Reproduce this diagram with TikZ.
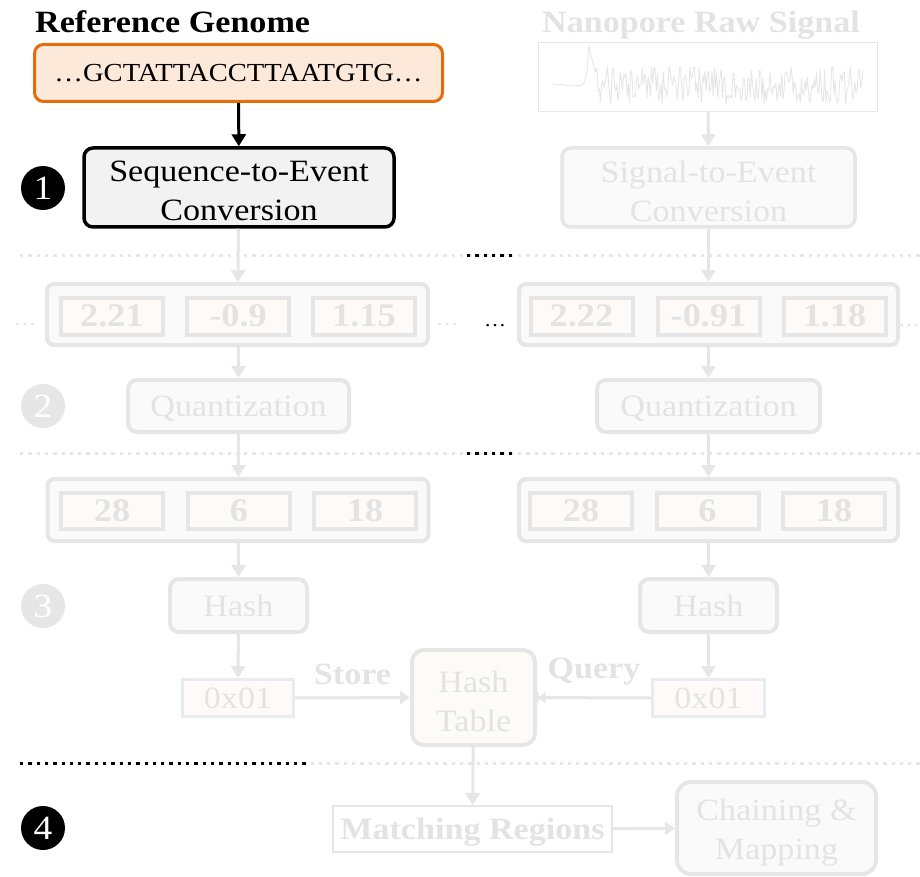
\documentclass[tikz,border=0pt]{standalone}
\usepackage{fontspec}
\setmainfont{Liberation Serif}[FakeStretch=1.1]
\usetikzlibrary{arrows.meta}

\definecolor{fadeline}{HTML}{E6E6E6}
\definecolor{fadetext}{HTML}{E3E3E3}
\definecolor{fadefill}{HTML}{FAFAFA}
\definecolor{cellfill}{HTML}{FEFAF8}
\definecolor{hexline}{HTML}{E8ECF2}
\definecolor{tablefill}{HTML}{FCFBF7}
\definecolor{refline}{HTML}{E46C0A}
\definecolor{reffill}{HTML}{FDE9D9}
\definecolor{activefill}{HTML}{F2F2F2}

\tikzset{
  lbl/.style={font=\fontsize{31}{39}\selectfont, align=center, inner sep=0pt},
  oneline/.style={lbl, text depth=0pt},
  boldlbl/.style={font=\fontsize{31}{39}\selectfont\bfseries, inner sep=0pt},
  faded/.style={draw=fadeline, text=fadetext},
  rbox/.style={rounded corners=9pt, line width=3.5pt, inner sep=0pt},
  outerrow/.style={draw=fadeline, fill=fadefill, rounded corners=7pt, line width=4pt,
                   minimum width=381pt, minimum height=61pt, inner sep=0pt},
  cell/.style={draw=fadeline, fill=cellfill, line width=4pt, text=fadetext,
               minimum width=102pt, minimum height=37pt, inner sep=0pt, text depth=0pt,
               font=\fontsize{33}{38}\selectfont\bfseries},
  hexbox/.style={oneline, draw=hexline, fill=cellfill, line width=3pt, text=fadetext,
                 minimum width=111pt, minimum height=37pt},
  flow/.style={line width=3pt, -{Triangle[length=12pt,width=14pt]}},
  fadeflow/.style={flow, draw=fadeline},
  sep/.style={line width=3pt, dash pattern=on 3.3pt off 5pt},
  stepmark/.style={circle, minimum size=44pt, inner sep=0pt, text=white, text depth=0pt,
                   font=\fontsize{34}{34}\selectfont},
  elli/.style={inner sep=0pt, font=\fontsize{20}{20}\selectfont}
}

\begin{document}
\begin{tikzpicture}[x=1pt, y=-1pt]
\useasboundingbox (0,0) rectangle (920,877);

% ---- section separators ----
\draw[sep, fadeline] (20,255) -- (920,255);
\draw[sep, black] (467,255) -- (513,255);
\draw[sep, fadeline] (20,453) -- (920,453);
\draw[sep, black] (467,453) -- (513,453);
\draw[sep, fadeline] (20,763) -- (920,763);
\draw[sep, black] (20,763) -- (307,763);

% ---- inputs ----
\node[boldlbl, anchor=base west] (reftitle) at (35,33) {Reference Genome};
\node[rbox, oneline, draw=refline, fill=reffill, line width=3pt, minimum width=408pt,
      minimum height=57pt, font=\fontsize{26}{32}\selectfont] (ref) at (238.5,73)
      {…GCTATTACCTTAATGTG…};

\node[boldlbl, text=fadetext, anchor=base] (sigtitle) at (701,33) {Nanopore Raw Signal};
\node[draw=fadeline, line width=1pt, minimum width=339pt, minimum height=69pt,
      inner sep=0pt] (sig) at (708,77) {};
\begin{scope}
  \pgfmathsetseed{4711}
  \draw[fadeline, line width=0.9pt, line join=round]
    (553,84) -- (558,85) -- (563,84) -- (568,86) -- (574,85) -- (580,86) -- (584,83)
    -- (587,72) -- (589,46) -- (591,56) -- (593,62) -- (595,72)
    -- plot[domain=597:863, samples=230] (\x,{85+19*rand});
\end{scope}

% ---- step 1: event conversion ----
\node[rbox, draw=black, fill=activefill, minimum width=310pt, minimum height=79pt]
  (s2e) at (239,187.5) {};
\node[lbl] (s2etext) at (239,191) {Sequence-to-Event\\Conversion};
\node[rbox, faded, fill=fadefill, minimum width=293pt, minimum height=79pt]
  (sig2e) at (708.5,187.5) {};
\node[lbl, text=fadetext] (sig2etext) at (708.5,191) {Signal-to-Event\\Conversion};
\node[stepmark, fill=black] (one) at (43,188) {1};

% events, reference side
\node[outerrow] (evL) at (237.5,314.5) {};
\node[cell] (evL1) at (112,316) {2.21};
\node[cell] (evL2) at (238,316) {-0.9};
\node[cell] (evL3) at (364,316) {1.15};
% events, signal side
\node[outerrow, minimum width=379pt] (evR) at (708.5,314.5) {};
\node[cell] (evR1) at (581.5,316) {2.22};
\node[cell] (evR2) at (708.5,316) {-0.91};
\node[cell] (evR3) at (834.5,316) {1.18};

\node[elli, text=fadetext] (dotsL) at (25,325) {…};
\node[elli, text=fadetext] (dotsM) at (447,325) {…};
\node[elli, text=black] (dotsK) at (495,326) {…};
\node[elli, text=fadetext] (dotsR) at (909,326) {…};

% ---- step 2: quantization ----
\node[rbox, oneline, faded, fill=fadefill, line width=4pt, minimum width=221pt, minimum height=52pt]
  (qL) at (238.5,406) {Quantization};
\node[rbox, oneline, faded, fill=fadefill, line width=4pt, minimum width=223pt, minimum height=52pt]
  (qR) at (708.5,406) {Quantization};
\node[stepmark, fill=fadeline] (two) at (43,406) {2};

\node[outerrow, minimum height=62pt] (qvL) at (238,510) {};
\node[cell, minimum height=36pt] (qvL1) at (112,511) {28};
\node[cell, minimum height=36pt] (qvL2) at (239,511) {6};
\node[cell, minimum height=36pt] (qvL3) at (365,511) {18};
\node[outerrow, minimum width=379pt, minimum height=62pt] (qvR) at (708.5,510) {};
\node[cell, minimum height=36pt] (qvR1) at (581,511) {28};
\node[cell, minimum height=36pt] (qvR2) at (707.5,511) {6};
\node[cell, minimum height=36pt] (qvR3) at (834,511) {18};

% ---- step 3: hashing ----
\node[rbox, oneline, faded, fill=fadefill, line width=4pt, minimum width=137pt, minimum height=53pt]
  (hL) at (238.5,605.5) {Hash};
\node[rbox, oneline, faded, fill=fadefill, line width=4pt, minimum width=137pt, minimum height=53pt]
  (hR) at (708.5,605.5) {Hash};
\node[stepmark, fill=fadeline] (three) at (43,606) {3};

\node[hexbox] (keyL) at (238,698) {0x01};
\node[hexbox, minimum width=112pt] (keyR) at (708.5,698) {0x01};
\node[rbox, faded, fill=tablefill, line width=4pt, rounded corners=12pt,
      minimum width=123pt, minimum height=95pt] (table) at (473.5,697.5) {};
\node[lbl, text=fadetext] (tabletext) at (473.5,701) {Hash\\Table};

% ---- step 4: mapping ----
\node[boldlbl, text depth=0pt, draw=fadeline, text=fadetext, fill=white, line width=2pt,
      minimum width=279pt, minimum height=46pt] (match) at (472.5,829) {Matching Regions};
\node[rbox, faded, fill=fadefill, line width=4pt, rounded corners=14pt,
      minimum width=199pt, minimum height=92pt] (chain) at (776.5,828) {};
\node[lbl, text=fadetext] (chaintext) at (776.5,833) {Chaining \&\\Mapping};
\node[stepmark, fill=black] (four) at (43,828) {4};

% ---- connectors ----
\draw[flow, black] (ref) -- (s2e);
\draw[fadeflow] (sig) -- (sig2e);
\draw[fadeflow] (s2e) -- (evL);
\draw[fadeflow] (sig2e) -- (evR);
\draw[fadeflow] (evL.south -| qL) -- (qL);
\draw[fadeflow] (evR.south -| qR) -- (qR);
\draw[fadeflow] (qL) -- (qvL.north -| qL);
\draw[fadeflow] (qR) -- (qvR.north -| qR);
\draw[fadeflow] (qvL.south -| hL) -- (hL);
\draw[fadeflow] (qvR.south -| hR) -- (hR);
\draw[fadeflow] (hL) -- (keyL);
\draw[fadeflow] (hR) -- (keyR);
\draw[fadeflow, -{Triangle[length=10pt,width=13pt]}] (keyL) --
  node[boldlbl, text=fadetext, above=11pt] (storelbl) {Store} (table);
\draw[fadeflow, -{Triangle[length=7pt,width=11pt] Bar[width=11pt,line width=1.5pt]}] (keyR) --
  node[boldlbl, text=fadetext, above=11pt] (querylbl) {Query} (table);
\draw[fadeflow] (table) -- (match);
\draw[fadeflow, -{Triangle[length=10pt,width=13pt]}] (match) -- (chain);

\end{tikzpicture}
\end{document}
